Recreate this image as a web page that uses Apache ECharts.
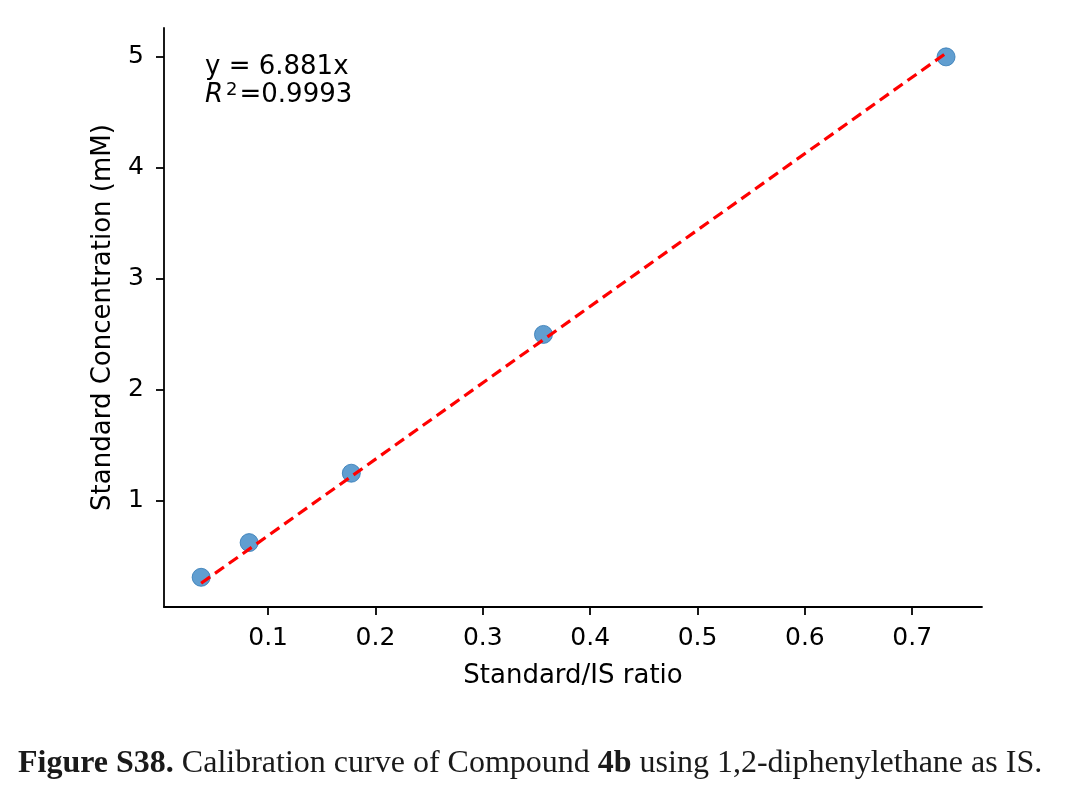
<!DOCTYPE html>
<html>
<head>
<meta charset="utf-8">
<script src="https://cdn.jsdelivr.net/npm/echarts@6/dist/echarts.min.js"></script>
<style>
  html, body { margin: 0; padding: 0; background: #fff; }
  #chart { width: 1073px; height: 798px; }
</style>
</head>
<body>
<div id="chart"></div>
<script>
// calibration points
var ratio = [0.0376, 0.0823, 0.1775, 0.3565, 0.7315];
var conc = [0.3125, 0.625, 1.25, 2.5, 5];
var slope = 6.881;
var xTicks = [0.1, 0.2, 0.3, 0.4, 0.5, 0.6, 0.7];
var yTicks = [1, 2, 3, 4, 5];

var points = ratio.map(function (r, i) { return [r, conc[i]]; });
var first = ratio[0], last = ratio[ratio.length - 1];
var fitLine = [[first, slope * first], [last, slope * last]];

var font = 'DejaVu Sans';
var chart = echarts.init(document.getElementById('chart'));

chart.setOption({
    animation: false,
    backgroundColor: '#fff',
    grid: { left: 164, top: 28, right: 91, bottom: 191 },
    xAxis: {
        type: 'value',
        min: 0.003,
        max: 0.765,
        name: 'Standard/IS ratio',
        nameLocation: 'middle',
        nameGap: 56,
        nameTextStyle: { fontFamily: font, fontSize: 26, color: '#000' },
        axisLine: { lineStyle: { color: '#000', width: 1.8 } },
        axisTick: { show: true, length: 8, customValues: xTicks, lineStyle: { color: '#000', width: 1.8 } },
        axisLabel: {
            customValues: xTicks, margin: 19,
            fontFamily: font, fontSize: 25, color: '#000',
            formatter: function (v) { return v.toFixed(1); }
        },
        splitLine: { show: false }
    },
    yAxis: {
        type: 'value',
        min: 0.045,
        max: 5.26,
        name: 'Standard Concentration (mM)',
        nameLocation: 'middle',
        nameGap: 48,
        nameTextStyle: { fontFamily: font, fontSize: 26, color: '#000' },
        axisLine: { show: true, lineStyle: { color: '#000', width: 1.8 } },
        axisTick: { show: true, length: 8, customValues: yTicks, lineStyle: { color: '#000', width: 1.8 } },
        axisLabel: {
            customValues: yTicks, margin: 20,
            fontFamily: font, fontSize: 25, color: '#000'
        },
        splitLine: { show: false }
    },
    series: [
        {
            type: 'scatter',
            data: points,
            symbolSize: 18,
            itemStyle: { color: '#3a86c4', borderColor: '#2f78b4', borderWidth: 1 },
            z: 2
        },
        {
            type: 'line',
            data: fitLine,
            showSymbol: false,
            lineStyle: { color: '#ff0000', width: 3.2, type: [11, 6] },
            z: 3
        }
    ],
    graphic: [
        {
            type: 'text', left: 205, top: 53,
            style: {
                text: 'y = 6.881x\n{i|R}{s|2}=0.9993',
                fontFamily: font, fontSize: 26, fill: '#000', lineHeight: 28,
                rich: {
                    i: { fontFamily: font, fontSize: 26, fontStyle: 'italic' },
                    s: { fontFamily: font, fontSize: 18, verticalAlign: 'top', padding: [0, 2, 14, 3] }
                }
            }
        },
        {
            type: 'text', left: 18, top: 748,
            style: {
                text: '{a|Figure S38.} Calibration curve of Compound {b|4b} using 1,2-diphenylethane as IS.',
                fontFamily: 'Liberation Serif', fontSize: 32, fill: '#1a1a1a',
                rich: {
                    a: { fontFamily: 'Liberation Serif', fontSize: 32, fontWeight: 'bold', color: '#0f4f58' },
                    b: { fontFamily: 'Liberation Serif', fontSize: 32, fontWeight: 'bold', color: '#1a1a1a' }
                }
            }
        }
    ]
});
</script>
</body>
</html>
